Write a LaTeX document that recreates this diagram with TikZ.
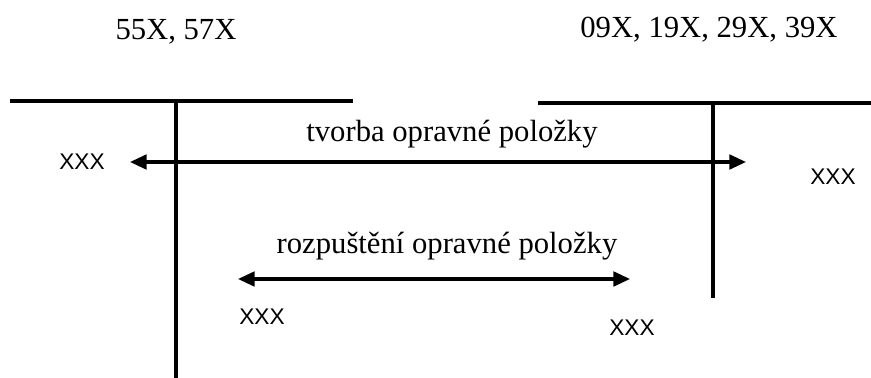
\documentclass[tikz,border=0pt]{standalone}
\usepackage{fontspec}
\setmainfont{Liberation Serif}
\newfontfamily\arialfont{Liberation Sans}
\usetikzlibrary{arrows.meta, positioning}

\begin{document}
\begin{tikzpicture}[x=0.75pt, y=-0.75pt,
    tline/.style={line width=3pt},
    flow/.style={line width=2.3pt, {Triangle[length=12.5pt, width=11pt]}-{Triangle[length=12.5pt, width=11pt]}},
    acct/.style={font=\fontsize{23}{27}\selectfont, inner sep=0pt, anchor=base},
    amount/.style={font=\arialfont\fontsize{17}{20}\selectfont, inner sep=0pt}]
  \useasboundingbox (0, 0) rectangle (871, 378);

  % Account names
  \node[acct] (titleA) at (176, 40) {55X, 57X};
  \node[acct] (titleB) at (709, 38) {09X, 19X, 29X, 39X};

  % T-account 55X, 57X
  \coordinate (topA1) at (10, 101);
  \coordinate (topA2) at (353, 101);
  \coordinate (midA1) at (176, 101);
  \coordinate (midA2) at (176, 378);
  \draw[tline] (topA1) -- (topA2);
  \draw[tline] (midA1) -- (midA2);

  % T-account 09X ... 39X
  \coordinate (topB1) at (538, 103);
  \coordinate (topB2) at (871, 103);
  \coordinate (midB1) at (713, 103);
  \coordinate (midB2) at (713, 298);
  \draw[tline] (topB1) -- (topB2);
  \draw[tline] (midB1) -- (midB2);

  % Creation of the allowance
  \coordinate (tvA) at (130, 162);
  \coordinate (tvB) at (746, 162);
  \draw[flow] (tvA) -- (tvB);
  \node[acct] (tvorba) at (452, 142) {tvorba opravné položky};
  \node[amount] (xA1) at (82, 162) {XXX};
  \node[amount] (xB1) at (833, 177) {XXX};

  % Release of the allowance
  \coordinate (roA) at (238, 279);
  \coordinate (roB) at (630, 279);
  \draw[flow] (roA) -- (roB);
  \node[acct] (rozpusteni) at (447, 253) {rozpuštění opravné položky};
  \node[amount] (xA2) at (262, 317) {XXX};
  \node[amount] (xB2) at (632, 328) {XXX};
\end{tikzpicture}
\end{document}
